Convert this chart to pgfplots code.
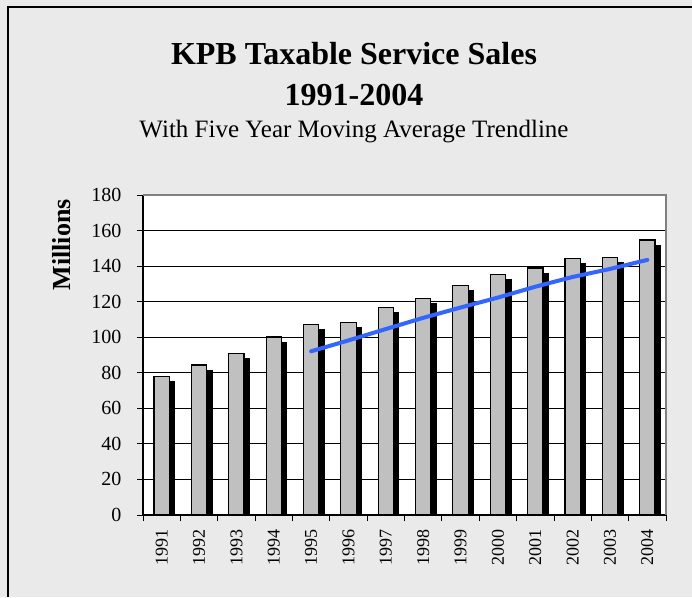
\documentclass[border=0pt]{standalone}
\usepackage{fontspec}
\setmainfont{Liberation Serif}
\usepackage{pgfplots}
\usepackage{pgfplotstable}
\pgfplotsset{compat=1.18}
\definecolor{bgc}{HTML}{EAEAEA}
\definecolor{barg}{HTML}{C0C0C0}
\definecolor{trendblue}{HTML}{3366FF}
\definecolor{framegray}{HTML}{808080}

\pgfplotstableread{
x year sales
0 1991 78.0
1 1992 84.4
2 1993 90.9
3 1994 100.1
4 1995 107.2
5 1996 108.4
6 1997 116.6
7 1998 122.0
8 1999 129.2
9 2000 135.2
10 2001 138.9
11 2002 144.2
12 2003 144.7
13 2004 154.7
}\salesdata

\pgfplotstableread{
x ma
4 92.1
5 98.2
6 104.6
7 110.9
8 116.7
9 122.3
10 128.4
11 133.9
12 138.4
13 143.5
}\madata

\begin{document}
\begin{tikzpicture}[x=1pt,y=1pt]
\useasboundingbox (0,0) rectangle (692,597);
\fill[bgc] (0,0) rectangle (692,597);
\draw[black, line width=1.5pt] (8,0) -- (8,590) -- (692,590);
\node[anchor=base, font=\fontsize{32}{36}\selectfont\bfseries] at (354,532) {KPB Taxable Service Sales};
\node[anchor=base, font=\fontsize{32}{36}\selectfont\bfseries] at (354,491) {1991-2004};
\node[anchor=base, font=\fontsize{25}{30}\selectfont] at (354,459) {With Five Year Moving Average Trendline};
\begin{axis}[
  at={(143pt,82pt)}, anchor=south west,
  scale only axis, width=523pt, height=320pt,
  xmin=-0.5, xmax=13.5, ymin=0, ymax=180,
  ytick={0,20,...,180},
  xtick={0,...,13},
  xticklabels={1991,1992,1993,1994,1995,1996,1997,1998,1999,2000,2001,2002,2003,2004},
  major x tick style={draw=none},
  minor xtick={-0.5,0.5,...,13.5},
  tick align=outside, major tick length=6pt, minor tick length=6pt,
  tick style={black, line width=0.8pt},
  ymajorgrids, grid style={black, line width=0.8pt},
  axis x line*=bottom, axis y line*=left,
  axis line style={black, line width=1.3pt, -},
  axis background/.style={fill=white},
  /pgf/number format/assume math mode=true,
  y tick label style={font=\fontsize{20}{24}\selectfont, xshift=-12pt},
  x tick label style={font=\fontsize{18}{21}\selectfont, rotate=90, anchor=east, xshift=-5pt},
  ylabel={\textbf{Millions}},
  ylabel style={font=\fontsize{26}{30}\selectfont, at={(axis description cs:-0.155,0.844)}, anchor=center},
]
\addplot[ybar, bar width=15.3pt, fill=barg, draw=black, line width=1.2pt,
  preaction={fill=black, draw=black, transform canvas={shift={(5.4pt,-5.3pt)}}}]
  table[x=x, y=sales] {\salesdata};
\addplot[color=trendblue, line width=4pt, line cap=round, line join=round, mark=none]
  table[x=x, y=ma] {\madata};
\end{axis}
\draw[framegray, line width=2pt] (143,402) -- (666,402) -- (666,82);
\end{tikzpicture}
\end{document}
